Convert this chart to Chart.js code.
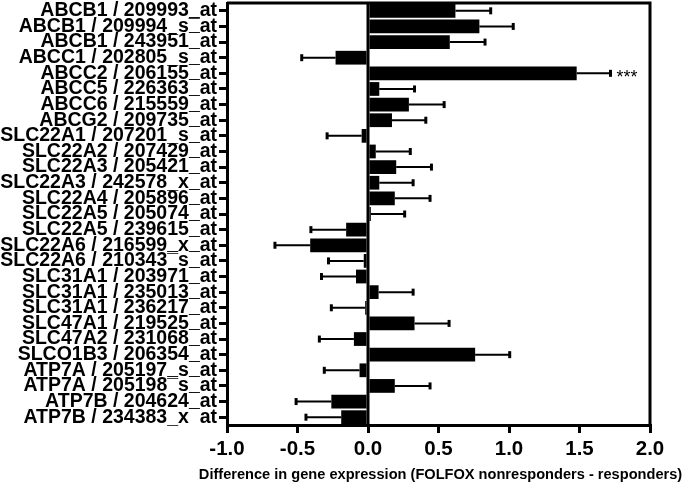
<!DOCTYPE html>
<html>
<head>
<meta charset="utf-8">
<script src="https://cdn.jsdelivr.net/npm/chart.js@4"></script>
<style>
  html, body { margin: 0; padding: 0; background: #fff; }
</style>
</head>
<body>
<canvas id="geneChart" width="685" height="484"></canvas>
<script>
const probes = [
  'ABCB1 / 209993_at', 'ABCB1 / 209994_s\u00afat', 'ABCB1 / 243951\u00afat',
  'ABCC1 / 202805_s\u00afat', 'ABCC2 / 206155\u00afat', 'ABCC5 / 226363\u00afat',
  'ABCC6 / 215559\u00afat', 'ABCG2 / 209735\u00afat', 'SLC22A1 / 207201_s\u00afat',
  'SLC22A2 / 207429\u00afat', 'SLC22A3 / 205421\u00afat', 'SLC22A3 / 242578_x\u00afat',
  'SLC22A4 / 205896\u00afat', 'SLC22A5 / 205074\u00afat', 'SLC22A5 / 239615\u00afat',
  'SLC22A6 / 216599_x\u00afat', 'SLC22A6 / 210343\u00afs\u00afat', 'SLC31A1 / 203971\u00afat',
  'SLC31A1 / 235013\u00afat', 'SLC31A1 / 236217\u00afat', 'SLC47A1 / 219525\u00afat',
  'SLC47A2 / 231068\u00afat', 'SLCO1B3 / 206354\u00afat', 'ATP7A / 205197_s\u00afat',
  'ATP7A / 205198\u00afs\u00afat', 'ATP7B / 204624\u00afat', 'ATP7B / 234383_x\u00afat'
];
const diffs = [0.62, 0.79, 0.58, -0.23, 1.48, 0.08, 0.29, 0.17, -0.045,
  0.055, 0.20, 0.08, 0.19, 0.02, -0.155, -0.41, -0.03, -0.085,
  0.075, -0.02, 0.33, -0.10, 0.76, -0.06, 0.19, -0.26, -0.19];
const sems = [0.25, 0.24, 0.25, 0.24, 0.24, 0.25, 0.25, 0.24, 0.245,
  0.245, 0.25, 0.24, 0.25, 0.24, 0.25, 0.25, 0.25, 0.245,
  0.245, 0.24, 0.245, 0.245, 0.245, 0.25, 0.25, 0.25, 0.25];
const stars = ['', '', '', '', '***', '', '', '', '', '', '', '', '', '',
  '', '', '', '', '', '', '', '', '', '', '', '', ''];
const xTicks = [-1.0, -0.5, 0.0, 0.5, 1.0, 1.5, 2.0];
const xTitle = 'Difference in gene expression (FOLFOX nonresponders - responders)';

const FONT = '"Liberation Sans", Arial, sans-serif';

// error bars, zero line, frame, stars and the x title
// (title drawn here: the scale title gets squeezed to the plot width)
const extras = {
  id: 'extras',
  afterDatasetsDraw(chart) {
    const ctx = chart.ctx;
    const xs = chart.scales.x, ys = chart.scales.y;
    const area = chart.chartArea;
    ctx.save();
    ctx.strokeStyle = '#000';
    diffs.forEach((v, i) => {
      const y = ys.getPixelForValue(i);
      const end = v + (v < 0 ? -sems[i] : sems[i]);
      const x0 = xs.getPixelForValue(v);
      const x1 = xs.getPixelForValue(end);
      ctx.lineWidth = 2;
      ctx.beginPath();
      ctx.moveTo(x0, y);
      ctx.lineTo(x1, y);
      ctx.stroke();
      ctx.lineWidth = 3;
      ctx.beginPath();
      ctx.moveTo(x1, y - 3.5);
      ctx.lineTo(x1, y + 3.5);
      ctx.stroke();
      if (stars[i]) {
        ctx.fillStyle = '#000';
        ctx.font = '18px ' + FONT;
        ctx.textAlign = 'left';
        ctx.textBaseline = 'middle';
        ctx.fillText(stars[i], x1 + 6, y + 5);
      }
    });
    // zero line
    const zx = xs.getPixelForValue(0);
    ctx.lineWidth = 3;
    ctx.beginPath();
    ctx.moveTo(zx, area.top);
    ctx.lineTo(zx, area.bottom);
    ctx.stroke();
    // top and right of the frame
    ctx.beginPath();
    ctx.moveTo(area.left, area.top);
    ctx.lineTo(area.right, area.top);
    ctx.lineTo(area.right, area.bottom);
    ctx.stroke();
    // x title
    ctx.fillStyle = '#000';
    ctx.font = 'bold 14.6px ' + FONT;
    ctx.textAlign = 'center';
    ctx.textBaseline = 'middle';
    ctx.fillText(xTitle, (area.left + area.right) / 2 + 2, chart.height - 9);
    ctx.restore();
  }
};

const ctx = document.getElementById('geneChart').getContext('2d');
const geneChart = new Chart(ctx, {
  type: 'bar',
  data: {
    labels: probes,
    datasets: [{
      data: diffs,
      backgroundColor: '#000',
      borderWidth: 0,
      barPercentage: 0.88,
      categoryPercentage: 1.0
    }]
  },
  options: {
    indexAxis: 'y',
    responsive: false,
    animation: false,
    devicePixelRatio: 1,
    layout: { padding: { top: 3, right: 35, left: 0, bottom: 0 } },
    plugins: { legend: { display: false }, tooltip: { enabled: false } },
    scales: {
      y: {
        type: 'category',
        afterFit: s => { s.width = 227; s.paddingTop = 0; s.paddingBottom = 0; },
        ticks: {
          color: '#000',
          padding: 2,
          autoSkip: false,
          font: { family: FONT, size: 19.5, weight: 'bold' }
        },
        grid: {
          drawOnChartArea: false,
          offset: false,
          tickLength: 8,
          lineWidth: 3,
          color: '#000'
        },
        border: { display: true, width: 3, color: '#000' }
      },
      x: {
        min: -1,
        max: 2,
        afterFit: s => { s.height = 59; },
        afterBuildTicks: s => { s.ticks = xTicks.map(v => ({ value: v })); },
        ticks: {
          color: '#000',
          padding: 4,
          callback: v => Number(v).toFixed(1),
          font: { family: FONT, size: 20.5, weight: 'bold' }
        },
        grid: {
          drawOnChartArea: false,
          tickLength: 8,
          lineWidth: 3,
          color: '#000'
        },
        border: { display: true, width: 3, color: '#000' }
      }
    }
  },
  plugins: [extras]
});
</script>
</body>
</html>
